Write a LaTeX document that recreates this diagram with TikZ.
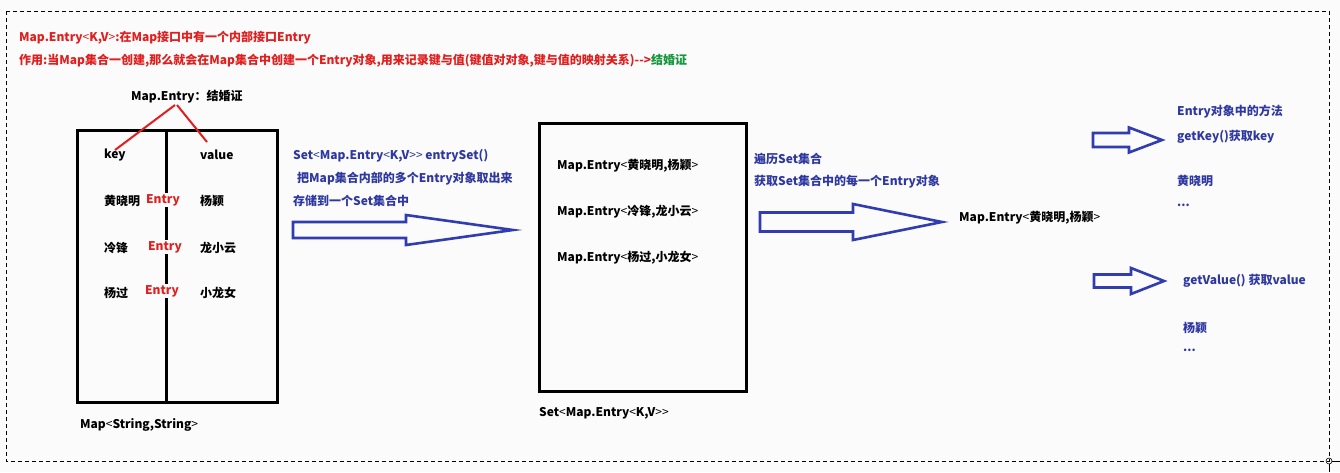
\documentclass[tikz,border=0pt]{standalone}
\usepackage{fontspec}
\setmainfont{Noto Sans CJK SC}
\definecolor{bgc}{RGB}{250,251,250}
\definecolor{myred}{RGB}{225,30,30}
\definecolor{myblue}{RGB}{48,60,175}
\definecolor{mytblue}{RGB}{46,56,160}
\definecolor{mygreen}{RGB}{20,150,60}
\newcommand{\myblockarrow}[6]{% tail, base, tip, ymid, shafthalf, headhalf
  \draw[blockarrow] (#1,#4-#5) -- (#2,#4-#5) -- (#2,#4-#6) -- (#3,#4) -- (#2,#4+#6) -- (#2,#4+#5) -- (#1,#4+#5) -- cycle;}
\newcommand{\lt}{{\mdseries<}}
\newcommand{\gt}{{\mdseries>}}
\tikzset{
  txt/.style={anchor=west,inner sep=0pt,font=\fontsize{12}{14}\selectfont\bfseries},
  redtxt/.style={txt,text=myred},
  bluetxt/.style={txt,text=mytblue},
  entrylbl/.style={anchor=center,inner sep=1pt,fill=bgc,text=myred,font=\fontsize{12}{14}\selectfont\bfseries},
  thickbox/.style={draw=black,line width=3pt},
  blockarrow/.style={draw=myblue,line width=2.6pt,line join=miter,fill=none},
  redline/.style={draw=myred,line width=2pt},
}
\begin{document}
\begin{tikzpicture}[x=1pt,y=-1pt]
\useasboundingbox (0,0) rectangle (1340,472);
\fill[bgc] (0,0) rectangle (1340,472);
% dashed frame
\draw[black,line width=1pt,dash pattern=on 4pt off 3pt] (6,11) rectangle (1329,461);
\node[draw=black,circle,inner sep=0pt,minimum size=6pt,line width=0.6pt] (handle) at (1329,461) {};
\draw[line width=0.6pt] (handle.east) -- (1340,461);
\draw[line width=0.6pt] (handle.south) -- (1329,472);

% header
\node[redtxt] (h1) at (19,38) {Map.Entry\lt K,V\gt:在Map接口中有一个内部接口Entry};
\node[redtxt] (h2) at (19,61) {作用:当Map集合一创建,那么就会在Map集合中创建一个Entry对象,用来记录键与值(键值对对象,键与值的映射关系)-{}-{}>\textcolor{mygreen}{结婚证}};

% Map box
\draw[thickbox] (77,130) rectangle (277,402);
\draw[thickbox] (166,130) -- (166,402);
\node[txt] (me) at (131,97) {Map.Entry：结婚证};
\coordinate (mel) at (175,105);
\coordinate (mer) at (177,105);
\coordinate (kt) at (115,150);
\coordinate (vt) at (207,142);
\node[txt] (key) at (104,155) {key};
\node[txt] (val) at (200,155) {value};
\draw[redline] (mel) -- (kt);
\draw[redline] (mer) -- (vt);
\node[txt] (k1) at (104,201) {黄晓明};
\node[txt] (v1) at (200,201) {杨颖};
\node[txt] (k2) at (104,248) {冷锋};
\node[txt] (v2) at (200,248) {龙小云};
\node[txt] (k3) at (104,293) {杨过};
\node[txt] (v3) at (200,293) {小龙女};
\node[entrylbl] (e1) at (163,200) {Entry};
\node[entrylbl] (e2) at (165,247) {Entry};
\node[entrylbl] (e3) at (162,291) {Entry};
\node[txt] (mapl) at (80,425) {Map\lt String,String\gt};

% middle text + arrow
\node[bluetxt] (t1) at (293,156) {Set\lt Map.Entry\lt K,V\gt\gt\ entrySet()};
\node[bluetxt] (t2) at (297,179) {把Map集合内部的多个Entry对象取出来};
\node[bluetxt] (t3) at (293,201) {存储到一个Set集合中};
\myblockarrow{293}{406}{513}{230}{8}{15}

% Set box
\draw[thickbox] (539,123) rectangle (746,391);
\node[txt] (s1) at (557,166) {Map.Entry\lt 黄晓明,杨颖\gt};
\node[txt] (s2) at (557,212) {Map.Entry\lt 冷锋,龙小云\gt};
\node[txt] (s3) at (557,258) {Map.Entry\lt 杨过,小龙女\gt};
\node[txt] (setl) at (539,413) {Set\lt Map.Entry\lt K,V\gt\gt};

% iterate
\node[bluetxt] (i1) at (754,159) {遍历Set集合};
\node[bluetxt] (i2) at (754,182) {获取Set集合中的每一个Entry对象};
\myblockarrow{760}{853}{942}{222}{9.5}{18}
\node[txt] (one) at (959,218) {Map.Entry\lt 黄晓明,杨颖\gt};

% methods
\node[bluetxt] (m0) at (1177,112) {Entry对象中的方法};
\node[bluetxt] (m1) at (1177,137) {getKey()获取key};
\myblockarrow{1093}{1129}{1162}{140}{7}{12.5}
\node[bluetxt] (m2) at (1177,181) {黄晓明};
\node[bluetxt] (m3) at (1177,205) {...};
\myblockarrow{1094}{1131}{1164}{281}{6.5}{13}
\node[bluetxt] (m4) at (1183,281) {getValue() 获取value};
\node[bluetxt] (m5) at (1183,328) {杨颖};
\node[bluetxt] (m6) at (1183,350) {...};
\end{tikzpicture}
\end{document}
